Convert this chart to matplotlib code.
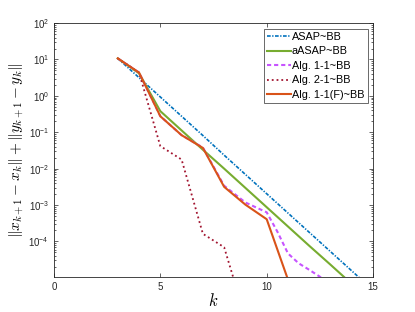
import numpy as np
import matplotlib.pyplot as plt
from matplotlib.ticker import FixedLocator, LogLocator, FuncFormatter

plt.rcParams['font.family'] = ['Liberation Sans', 'DejaVu Sans']
plt.rcParams['mathtext.fontset'] = 'cm'

# values (log10 of the residual)
k_asap = [3, 4, 5, 6, 7, 8, 9, 10, 11, 12, 13, 14, 15]
log_asap = [1.03, 0.50, -0.03, -0.56, -1.09, -1.63, -2.16, -2.69, -3.22, -3.75, -4.28, -4.81, -5.34]

k_aasap = [3, 4, 5, 6, 7, 8, 9, 10, 11, 12, 13, 14]
log_aasap = [1.03, 0.62, -0.42, -0.95, -1.48, -2.00, -2.53, -3.06, -3.59, -4.12, -4.64, -5.17]

k_alg11 = [3, 4, 5, 6, 7, 8, 9, 10, 10.5, 11, 11.5, 12, 12.5, 13]
log_alg11 = [1.03, 0.64, -0.56, -1.08, -1.42, -2.47, -2.93, -3.2, -3.73, -4.33, -4.6, -4.78, -4.97, -5.2]

k_alg21 = [3, 4, 5, 6, 7, 8, 9]
log_alg21 = [1.03, 0.64, -1.38, -1.75, -3.79, -4.16, -6.1]

k_alg11f = [3, 4, 5, 6, 7, 8, 9, 10, 11]
log_alg11f = [1.03, 0.64, -0.56, -1.08, -1.43, -2.50, -2.99, -3.39, -5.05]

fig = plt.figure(figsize=(4.15, 3.12), dpi=100)
ax = fig.add_axes([0.13, 0.112, 0.769, 0.814])

ax.semilogy(k_asap, 10.0 ** np.array(log_asap), color=(0, 0.447, 0.741), lw=1.2,
            ls=(0, (2.2, 0.9, 0.8, 0.9)), label='ASAP~BB')
ax.semilogy(k_aasap, 10.0 ** np.array(log_aasap), '-', color=(0.466, 0.674, 0.188), lw=1.5, label='aASAP~BB')
ax.semilogy(k_alg11, 10.0 ** np.array(log_alg11), color=(0.78, 0.33, 1.0), lw=1.5,
            ls=(0, (2.0, 1.4)), label='Alg. 1-1~BB')
ax.semilogy(k_alg21, 10.0 ** np.array(log_alg21), ':', color=(0.635, 0.078, 0.184), lw=1.3, label='Alg. 2-1~BB')
ax.semilogy(k_alg11f, 10.0 ** np.array(log_alg11f), '-', color=(0.85, 0.325, 0.098), lw=1.5, label='Alg. 1-1(F)~BB')

ax.set_xlim(0, 15)
ax.set_ylim(1.05e-5, 100)
ax.set_xticks([0, 5, 10, 15])
ax.yaxis.set_major_locator(FixedLocator([1e-4, 1e-3, 1e-2, 1e-1, 1, 10, 100]))
ax.yaxis.set_minor_locator(LogLocator(base=10, subs=np.arange(2, 10), numticks=20))
ax.yaxis.set_major_formatter(FuncFormatter(lambda v, p: r'$\mathregular{10^{%d}}$' % round(np.log10(v))))

gray = (0.15, 0.15, 0.15)
for s in ax.spines.values():
    s.set_color(gray)
    s.set_linewidth(0.6)
ax.tick_params(which='both', direction='in', top=True, right=True, colors=gray,
               labelsize=7, width=0.5)
ax.tick_params(which='major', length=3)
ax.tick_params(which='minor', length=1.5)

ax.set_xlabel(r'$k$', fontsize=12, labelpad=0)
ax.set_ylabel(r'$\|x_{k+1}-x_k\|+\|y_{k+1}-y_k\|$', fontsize=11, labelpad=2)

leg = ax.legend(loc='upper right', fontsize=7.8, handlelength=2.2, handletextpad=0.1,
                borderpad=0.3, labelspacing=0.42, borderaxespad=0.5, fancybox=False)
leg.get_frame().set_edgecolor(gray)
leg.get_frame().set_linewidth(0.6)

fig.savefig('out.png', dpi=100)
